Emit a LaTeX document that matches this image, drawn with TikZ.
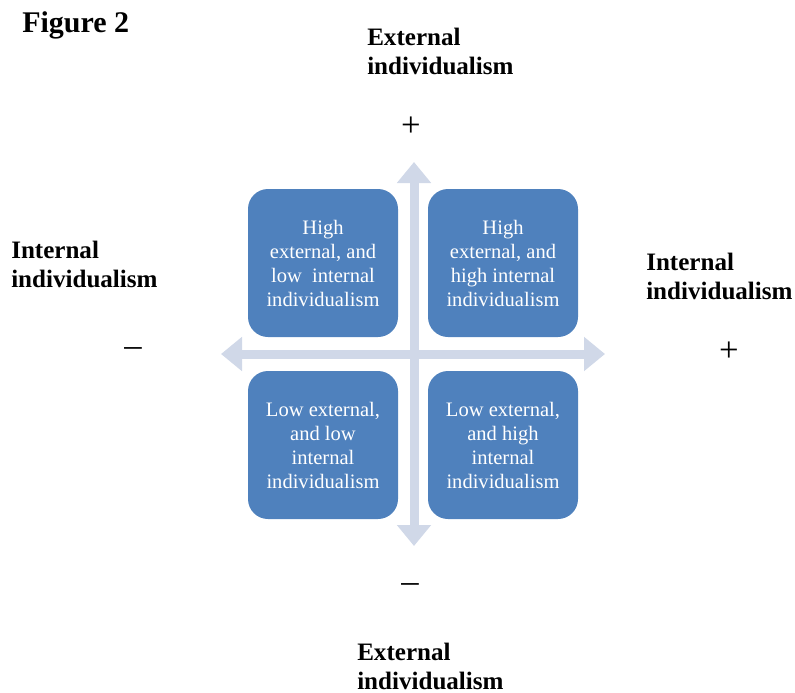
\documentclass[tikz,border=0pt]{standalone}
\usepackage{fontspec}
\setmainfont{Liberation Serif}
\usetikzlibrary{arrows.meta}
\definecolor{quadblue}{HTML}{4F81BD}
\definecolor{axisgrey}{HTML}{D0D8E8}

\begin{document}
\begin{tikzpicture}[
  x=0.75pt,
  y=-0.75pt,
  every node/.style={inner sep=0pt, black},
  axisline/.style={axisgrey, line width=6.75pt,
                   {Triangle[length=15.75pt, width=24.75pt]}-{Triangle[length=15.75pt, width=24.75pt]}},
  quadrant/.style={fill=quadblue, draw=none, rounded corners=15pt,
                   minimum width=112.5pt, minimum height=111pt,
                   text=white, align=center,
                   font=\fontsize{15.4}{18}\selectfont},
  heading/.style={anchor=north west, align=left,
                  font=\fontsize{18.8}{21.75}\selectfont\bfseries},
  sign/.style={font=\fontsize{26}{28}\selectfont}
]
  \useasboundingbox (0,0) rectangle (795,692);

  %% ---- axes ---------------------------------------------------------------
  \coordinate (top)    at (414,162);
  \coordinate (bottom) at (414,546);
  \coordinate (left)   at (221,354);
  \coordinate (right)  at (605,354);
  \draw[axisline] (bottom) -- (top);
  \draw[axisline] (left) -- (right);

  %% ---- four quadrants -----------------------------------------------------
  \node[quadrant] (hilo) at (323,263) {High\\external, and\\low~ internal\\individualism};
  \node[quadrant] (hihi) at (503,263) {High\\external, and\\high internal\\individualism};
  \node[quadrant] (lolo) at (323,445) {Low external,\\and low\\internal\\individualism};
  \node[quadrant] (lohi) at (503,445) {Low external,\\and high\\internal\\individualism};

  %% ---- axis labels and signs ----------------------------------------------
  \node[heading, font=\fontsize{22.5}{26}\selectfont\bfseries] (fig) at (22,11) {Figure 2};
  \node[heading] (exttop) at (367,28)  {External\\individualism};
  \node[heading] (extbot) at (357,643) {External\\individualism};
  \node[heading] (intleft)  at (11,241)  {Internal\\individualism};
  \node[heading] (intright) at (646,253) {Internal\\individualism};

  \node[sign] (plustop)    at (411,127) {+};
  \node[sign] (minusbot)   at (410,588) {–};
  \node[sign] (minusleft)  at (133,352) {–};
  \node[sign] (plusright)  at (729,352) {+};
\end{tikzpicture}
\end{document}
